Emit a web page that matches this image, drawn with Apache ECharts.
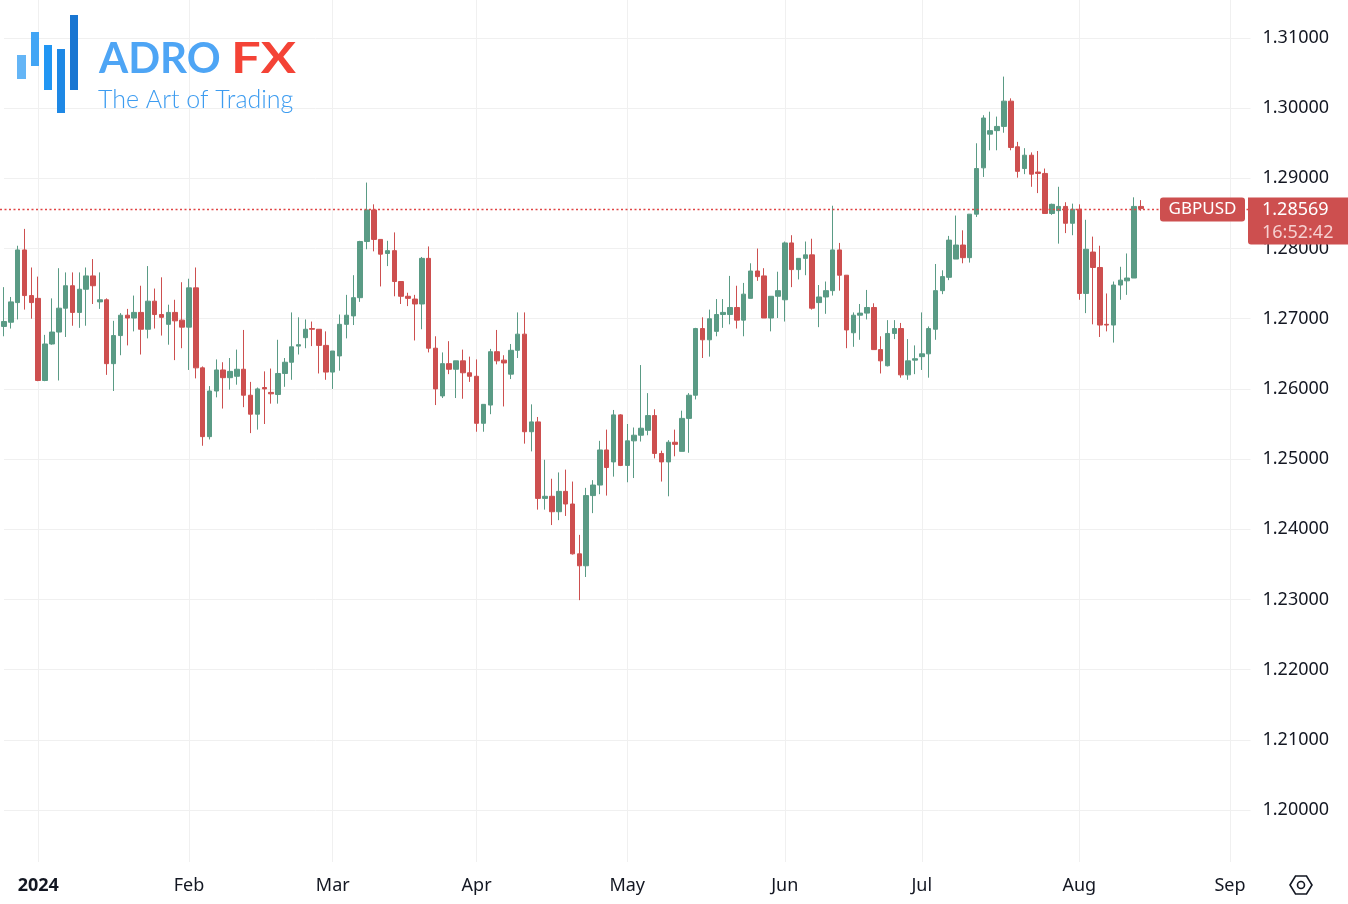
<!DOCTYPE html>
<html>
<head>
<meta charset="utf-8">
<title>GBPUSD daily</title>
<script src="https://cdn.jsdelivr.net/npm/echarts@6/dist/echarts.min.js"></script>
<style>
  html, body { margin: 0; padding: 0; background: #ffffff; }
  #main { width: 1348px; height: 904px; }
</style>
</head>
<body>
<div id="main"></div>
<script>
// daily candles, each row: [open, high, low, close]
const dec23 = [
  [1.2689, 1.2745, 1.2675, 1.2696],
  [1.2695, 1.2731, 1.2686, 1.2724],
  [1.2723, 1.2804, 1.2699, 1.2798],
  [1.2798, 1.2828, 1.2713, 1.2733],
  [1.2733, 1.2773, 1.2700, 1.2723]
];
const jan = [
  [1.2729, 1.2760, 1.2611, 1.2612],
  [1.2612, 1.2677, 1.2611, 1.2664],
  [1.2664, 1.2729, 1.2663, 1.2681],
  [1.2681, 1.2772, 1.2612, 1.2715],
  [1.2715, 1.2766, 1.2674, 1.2747],
  [1.2747, 1.2766, 1.2690, 1.2709],
  [1.2709, 1.2766, 1.2687, 1.2742],
  [1.2742, 1.2773, 1.2690, 1.2761],
  [1.2761, 1.2785, 1.2721, 1.2747],
  [1.2724, 1.2766, 1.2714, 1.2727],
  [1.2727, 1.2729, 1.2620, 1.2636],
  [1.2636, 1.2697, 1.2597, 1.2676],
  [1.2676, 1.2708, 1.2648, 1.2705],
  [1.2705, 1.2714, 1.2662, 1.2701],
  [1.2701, 1.2733, 1.2682, 1.2709],
  [1.2709, 1.2747, 1.2649, 1.2685],
  [1.2685, 1.2775, 1.2672, 1.2725],
  [1.2725, 1.2743, 1.2686, 1.2706],
  [1.2706, 1.2759, 1.2676, 1.2702],
  [1.2692, 1.2720, 1.2663, 1.2709],
  [1.2709, 1.2727, 1.2641, 1.2697],
  [1.2698, 1.2752, 1.2658, 1.2688]
];
const feb = [
  [1.2688, 1.2757, 1.2627, 1.2744],
  [1.2744, 1.2773, 1.2615, 1.2630],
  [1.2630, 1.2632, 1.2519, 1.2532],
  [1.2532, 1.2604, 1.2528, 1.2597],
  [1.2597, 1.2642, 1.2588, 1.2627],
  [1.2627, 1.2638, 1.2572, 1.2616],
  [1.2616, 1.2644, 1.2599, 1.2625],
  [1.2618, 1.2656, 1.2606, 1.2628],
  [1.2628, 1.2684, 1.2574, 1.2591],
  [1.2591, 1.2610, 1.2537, 1.2564],
  [1.2564, 1.2602, 1.2542, 1.2600],
  [1.2602, 1.2625, 1.2550, 1.2600],
  [1.2595, 1.2629, 1.2579, 1.2593],
  [1.2592, 1.2670, 1.2579, 1.2622],
  [1.2622, 1.2644, 1.2603, 1.2638],
  [1.2638, 1.2709, 1.2613, 1.2660],
  [1.2661, 1.2702, 1.2649, 1.2663],
  [1.2673, 1.2699, 1.2658, 1.2685],
  [1.2686, 1.2696, 1.2661, 1.2685],
  [1.2685, 1.2685, 1.2622, 1.2662],
  [1.2662, 1.2682, 1.2613, 1.2624]
];
const mar = [
  [1.2624, 1.2654, 1.2600, 1.2654],
  [1.2647, 1.2706, 1.2626, 1.2692],
  [1.2692, 1.2734, 1.2672, 1.2705],
  [1.2704, 1.2762, 1.2691, 1.2730],
  [1.2730, 1.2811, 1.2724, 1.2810],
  [1.2810, 1.2894, 1.2799, 1.2855],
  [1.2855, 1.2863, 1.2796, 1.2813],
  [1.2813, 1.2813, 1.2746, 1.2792],
  [1.2793, 1.2811, 1.2775, 1.2797],
  [1.2797, 1.2823, 1.2732, 1.2753],
  [1.2753, 1.2753, 1.2721, 1.2732],
  [1.2732, 1.2737, 1.2718, 1.2729],
  [1.2728, 1.2734, 1.2669, 1.2721],
  [1.2721, 1.2788, 1.2685, 1.2786],
  [1.2786, 1.2803, 1.2652, 1.2658],
  [1.2658, 1.2675, 1.2577, 1.2600],
  [1.2590, 1.2652, 1.2587, 1.2636],
  [1.2636, 1.2668, 1.2621, 1.2628],
  [1.2628, 1.2640, 1.2587, 1.2640],
  [1.2640, 1.2656, 1.2586, 1.2623],
  [1.2623, 1.2646, 1.2610, 1.2618]
];
const apr = [
  [1.2618, 1.2642, 1.2539, 1.2551],
  [1.2551, 1.2578, 1.2539, 1.2578],
  [1.2577, 1.2657, 1.2564, 1.2653],
  [1.2653, 1.2684, 1.2635, 1.2640],
  [1.2641, 1.2648, 1.2575, 1.2637],
  [1.2621, 1.2664, 1.2614, 1.2655],
  [1.2655, 1.2709, 1.2644, 1.2678],
  [1.2678, 1.2709, 1.2522, 1.2539],
  [1.2539, 1.2578, 1.2511, 1.2553],
  [1.2553, 1.2560, 1.2428, 1.2444],
  [1.2444, 1.2499, 1.2428, 1.2447],
  [1.2447, 1.2472, 1.2406, 1.2425],
  [1.2425, 1.2481, 1.2413, 1.2454],
  [1.2454, 1.2485, 1.2419, 1.2436],
  [1.2436, 1.2468, 1.2364, 1.2365],
  [1.2365, 1.2392, 1.2299, 1.2348],
  [1.2348, 1.2459, 1.2332, 1.2448],
  [1.2448, 1.2470, 1.2423, 1.2463],
  [1.2463, 1.2526, 1.2450, 1.2513],
  [1.2513, 1.2542, 1.2448, 1.2488],
  [1.2496, 1.2570, 1.2475, 1.2563],
  [1.2563, 1.2564, 1.2490, 1.2491]
];
const may = [
  [1.2491, 1.2550, 1.2467, 1.2526],
  [1.2526, 1.2545, 1.2473, 1.2534],
  [1.2534, 1.2634, 1.2525, 1.2544],
  [1.2541, 1.2594, 1.2534, 1.2562],
  [1.2562, 1.2571, 1.2501, 1.2508],
  [1.2508, 1.2512, 1.2468, 1.2496],
  [1.2496, 1.2527, 1.2447, 1.2524],
  [1.2524, 1.2542, 1.2504, 1.2521],
  [1.2511, 1.2569, 1.2511, 1.2558],
  [1.2558, 1.2594, 1.2509, 1.2591],
  [1.2591, 1.2687, 1.2585, 1.2686],
  [1.2686, 1.2702, 1.2644, 1.2670],
  [1.2670, 1.2713, 1.2646, 1.2700],
  [1.2682, 1.2728, 1.2675, 1.2706],
  [1.2706, 1.2728, 1.2687, 1.2709],
  [1.2706, 1.2761, 1.2692, 1.2716],
  [1.2716, 1.2747, 1.2686, 1.2698],
  [1.2698, 1.2751, 1.2675, 1.2735],
  [1.2729, 1.2779, 1.2729, 1.2768],
  [1.2768, 1.2800, 1.2754, 1.2760],
  [1.2761, 1.2772, 1.2701, 1.2701],
  [1.2701, 1.2732, 1.2682, 1.2732],
  [1.2732, 1.2767, 1.2701, 1.2740]
];
const jun = [
  [1.2727, 1.2810, 1.2696, 1.2808],
  [1.2808, 1.2819, 1.2745, 1.2770],
  [1.2770, 1.2786, 1.2756, 1.2786],
  [1.2786, 1.2810, 1.2762, 1.2791],
  [1.2791, 1.2814, 1.2713, 1.2715],
  [1.2723, 1.2748, 1.2688, 1.2731],
  [1.2731, 1.2753, 1.2707, 1.2740],
  [1.2740, 1.2861, 1.2733, 1.2798],
  [1.2798, 1.2808, 1.2740, 1.2762],
  [1.2762, 1.2762, 1.2658, 1.2684],
  [1.2680, 1.2709, 1.2660, 1.2705],
  [1.2705, 1.2721, 1.2670, 1.2708],
  [1.2708, 1.2741, 1.2699, 1.2716],
  [1.2716, 1.2722, 1.2656, 1.2656],
  [1.2656, 1.2675, 1.2622, 1.2640],
  [1.2633, 1.2698, 1.2632, 1.2679],
  [1.2679, 1.2698, 1.2671, 1.2686],
  [1.2686, 1.2694, 1.2616, 1.2620],
  [1.2620, 1.2671, 1.2613, 1.2640],
  [1.2641, 1.2662, 1.2621, 1.2643]
];
const jul = [
  [1.2646, 1.2709, 1.2627, 1.2650],
  [1.2650, 1.2689, 1.2616, 1.2686],
  [1.2685, 1.2778, 1.2670, 1.2740],
  [1.2740, 1.2769, 1.2735, 1.2760],
  [1.2759, 1.2818, 1.2755, 1.2812],
  [1.2785, 1.2847, 1.2785, 1.2805],
  [1.2805, 1.2826, 1.2779, 1.2787],
  [1.2787, 1.2849, 1.2780, 1.2849],
  [1.2849, 1.2950, 1.2845, 1.2914],
  [1.2915, 1.2990, 1.2902, 1.2986],
  [1.2963, 1.2995, 1.2940, 1.2968],
  [1.2968, 1.2988, 1.2940, 1.2974],
  [1.2974, 1.3045, 1.2965, 1.3010],
  [1.3010, 1.3014, 1.2940, 1.2944],
  [1.2945, 1.2952, 1.2901, 1.2910],
  [1.2914, 1.2943, 1.2906, 1.2933],
  [1.2933, 1.2937, 1.2888, 1.2906],
  [1.2909, 1.2939, 1.2879, 1.2907],
  [1.2907, 1.2914, 1.2850, 1.2850],
  [1.2850, 1.2864, 1.2848, 1.2863],
  [1.2854, 1.2888, 1.2807, 1.2860],
  [1.2860, 1.2866, 1.2822, 1.2836],
  [1.2836, 1.2864, 1.2819, 1.2856]
];
const aug = [
  [1.2856, 1.2863, 1.2727, 1.2736],
  [1.2736, 1.2841, 1.2708, 1.2799],
  [1.2795, 1.2817, 1.2692, 1.2773],
  [1.2773, 1.2804, 1.2674, 1.2691],
  [1.2692, 1.2736, 1.2682, 1.2691],
  [1.2691, 1.2753, 1.2666, 1.2748],
  [1.2748, 1.2774, 1.2727, 1.2755],
  [1.2754, 1.2793, 1.2734, 1.2758],
  [1.2758, 1.2873, 1.2758, 1.2860],
  [1.2860, 1.2869, 1.2854, 1.28569]
];

const symbol = 'GBPUSD';
const lastPrice = 1.28569;
const clockText = '16:52:42';
const firstDay = '2023-12-22';
const skipDays = ['2023-12-25', '2024-01-01'];
const totalSlots = 183; // trading days incl. empty space up to early Sep
const monthNames = ['Jan', 'Feb', 'Mar', 'Apr', 'May', 'Jun', 'Jul', 'Aug', 'Sep', 'Oct', 'Nov', 'Dec'];

const upColor = '#5a9b85';
const downColor = '#cd4f4f';
const gridColor = '#f0f0f0';
const textColor = '#131722';

// weekday calendar
const dates = [];
let d = new Date(firstDay + 'T00:00:00Z');
while (dates.length < totalSlots) {
  const wd = d.getUTCDay();
  const s = d.toISOString().slice(0, 10);
  if (wd !== 0 && wd !== 6 && skipDays.indexOf(s) < 0) dates.push(s);
  d.setUTCDate(d.getUTCDate() + 1);
}
const monthStart = {};
for (let i = 1; i < dates.length; i++) {
  if (dates[i].slice(5, 7) !== dates[i - 1].slice(5, 7)) monthStart[i] = true;
}
const isMonthStart = idx => !!monthStart[idx];

const candles = [].concat(dec23, jan, feb, mar, apr, may, jun, jul, aug);
// echarts wants [open, close, low, high]
const seriesData = candles.map(r => [r[0], r[3], r[2], r[1]]);

const gridLeft = 4;
const gridRight = 97.5;

const option = {
  animation: false,
  backgroundColor: '#ffffff',
  grid: [
    { left: gridLeft, right: gridRight, top: 38, height: 772 },
    { left: gridLeft, right: gridRight, top: 0, height: 862 }
  ],
  xAxis: [
    {
      type: 'category',
      gridIndex: 0,
      data: dates,
      boundaryGap: false,
      axisLine: { show: false },
      axisTick: { show: false },
      axisLabel: { show: false },
      splitLine: { show: false }
    },
    {
      type: 'category',
      gridIndex: 1,
      data: dates,
      boundaryGap: false,
      axisLine: { show: false },
      axisTick: { show: false },
      axisLabel: {
        interval: isMonthStart,
        margin: 15,
        color: textColor,
        fontSize: 18,
        fontFamily: 'Noto Sans',
        formatter: v => {
          const m = +v.slice(5, 7) - 1;
          if (m === 0) return '{yr|' + v.slice(0, 4) + '}';
          return monthNames[m];
        },
        rich: {
          yr: { fontWeight: 'bold', fontSize: 18, fontFamily: 'Noto Sans', color: textColor }
        }
      },
      splitLine: {
        show: true,
        interval: isMonthStart,
        lineStyle: { color: gridColor, width: 1 }
      }
    }
  ],
  yAxis: [
    {
      type: 'value',
      gridIndex: 0,
      position: 'right',
      min: 1.20,
      max: 1.31,
      interval: 0.01,
      axisLine: { show: false },
      axisTick: { show: false },
      axisLabel: {
        margin: 12,
        color: textColor,
        fontSize: 18,
        fontFamily: 'Noto Sans',
        formatter: v => v.toFixed(5)
      },
      splitLine: { lineStyle: { color: gridColor, width: 1 } }
    },
    { type: 'value', gridIndex: 1, show: false, min: 0, max: 1 }
  ],
  series: [
    {
      name: symbol,
      type: 'candlestick',
      xAxisIndex: 0,
      yAxisIndex: 0,
      data: seriesData,
      barWidth: 5,
      itemStyle: {
        color: upColor,
        color0: downColor,
        borderColor: upColor,
        borderColor0: downColor,
        borderWidth: 1
      }
    }
  ]
};

const chart = echarts.init(document.getElementById('main'));
chart.setOption(option);

// last-price line, logo and price tags
const yLast = Math.round(chart.convertToPixel({ yAxisIndex: 0 }, lastPrice)) + 0.5;
const logoBars = [
  [17, 55, 9, 24, '#64b5f6'],
  [31, 32, 8, 34, '#42a5f5'],
  [44, 45, 8, 45, '#2196f3'],
  [57, 49, 8, 64, '#1e88e5'],
  [70, 15, 8, 75, '#1976d2']
];
const graphics = logoBars.map(b => ({
  type: 'rect',
  shape: { x: b[0], y: b[1], width: b[2], height: b[3] },
  style: { fill: b[4] },
  z: 100
}));
graphics.push(
  {
    type: 'line', z: 50, silent: true,
    shape: { x1: 0, y1: yLast, x2: 1248, y2: yLast },
    style: { stroke: '#e04545', lineWidth: 1.3, lineDash: [2, 2.5] }
  },
  {
    type: 'text', z: 100,
    style: { text: 'ADRO', x: 99, y: 59, fill: '#4ea5f5', font: 'bold 42px Lato', verticalAlign: 'middle' }
  },
  {
    type: 'text', z: 100, x: 231, y: 59, scaleX: 1.25,
    style: { text: 'FX', x: 0, y: 0, fill: '#f44336', font: 'bold 42px Lato', verticalAlign: 'middle' }
  },
  {
    type: 'text', z: 100,
    style: { text: 'The Art of Trading', x: 98, y: 100, fill: '#3d9cf0', font: '300 25px Lato', verticalAlign: 'middle' }
  },
  {
    type: 'rect', z: 100,
    shape: { x: 1160, y: yLast - 12, width: 85, height: 24, r: 3 },
    style: { fill: downColor }
  },
  {
    type: 'text', z: 101,
    style: { text: symbol, x: 1202.5, y: yLast, fill: '#ffffff', font: '17px "Noto Sans"', align: 'center', verticalAlign: 'middle' }
  },
  {
    type: 'rect', z: 100,
    shape: { x: 1248, y: yLast - 12, width: 100, height: 47, r: [0, 0, 0, 3] },
    style: { fill: downColor }
  },
  {
    type: 'text', z: 101,
    style: { text: lastPrice.toFixed(5), x: 1262, y: yLast, fill: '#ffffff', font: '18px "Noto Sans"', verticalAlign: 'middle' }
  },
  {
    type: 'text', z: 101,
    style: { text: clockText, x: 1262, y: yLast + 23, fill: '#f6d0d0', font: '18px "Noto Sans"', verticalAlign: 'middle' }
  },
  {
    type: 'polygon', z: 100,
    shape: { points: [[1290, 885], [1295.5, 876], [1306.5, 876], [1312, 885], [1306.5, 894], [1295.5, 894]] },
    style: { fill: 'none', stroke: textColor, lineWidth: 1.6 }
  },
  {
    type: 'circle', z: 100,
    shape: { cx: 1301, cy: 885, r: 3.5 },
    style: { fill: 'none', stroke: textColor, lineWidth: 1.6 }
  }
);
chart.setOption({ graphic: graphics });
</script>
</body>
</html>
